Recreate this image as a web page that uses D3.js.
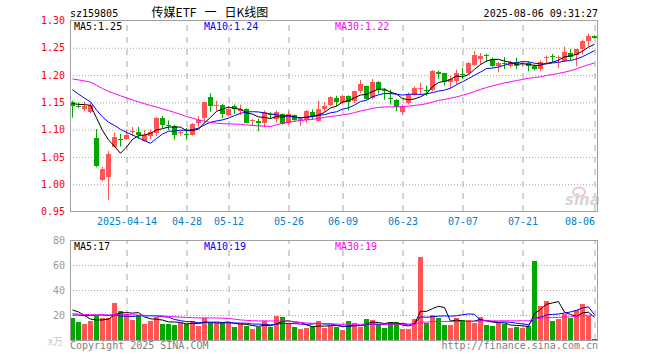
<!DOCTYPE html>
<html>
<head>
<meta charset="utf-8">
<script src="https://cdn.jsdelivr.net/npm/d3@7/dist/d3.min.js"></script>
<style>
  html, body { margin: 0; padding: 0; background: #fff; }
  svg { display: block; }
</style>
</head>
<body>
<svg id="chart" width="660" height="360"></svg>
<script>
// Trading days shown (2025), one candle per day
const dates = [
    "03-31", "04-01", "04-02", "04-03", "04-07", "04-08", "04-09", "04-10", "04-11",
    "04-14", "04-15", "04-16", "04-17", "04-18", "04-21", "04-22", "04-23", "04-24", "04-25",
    "04-28", "04-29", "04-30", "05-06", "05-07", "05-08", "05-09",
    "05-12", "05-13", "05-14", "05-15", "05-16", "05-19", "05-20", "05-21", "05-22", "05-23",
    "05-26", "05-27", "05-28", "05-29", "05-30", "06-03", "06-04", "06-05", "06-06",
    "06-09", "06-10", "06-11", "06-12", "06-13", "06-16", "06-17", "06-18", "06-19", "06-20",
    "06-23", "06-24", "06-25", "06-26", "06-27", "06-30", "07-01", "07-02", "07-03", "07-04",
    "07-07", "07-08", "07-09", "07-10", "07-11", "07-14", "07-15", "07-16", "07-17", "07-18",
    "07-21", "07-22", "07-23", "07-24", "07-25", "07-28", "07-29", "07-30", "07-31", "08-01",
    "08-04", "08-05", "08-06",
];

const open = [
    1.150, 1.144, 1.138, 1.132, 1.085, 1.008, 1.014, 1.069, 1.083, 1.083,
    1.095, 1.096, 1.080, 1.089, 1.094, 1.121, 1.108, 1.107, 1.093, 1.092,
    1.091, 1.113, 1.121, 1.159, 1.143, 1.146, 1.127, 1.144, 1.134, 1.138,
    1.115, 1.115, 1.112, 1.129, 1.120, 1.129, 1.112, 1.127, 1.116, 1.118,
    1.132, 1.115, 1.137, 1.145, 1.158, 1.149, 1.162, 1.152, 1.170, 1.180,
    1.158, 1.188, 1.173, 1.158, 1.155, 1.133, 1.149, 1.164, 1.174, 1.173,
    1.173, 1.205, 1.203, 1.187, 1.189, 1.202, 1.203, 1.219, 1.229, 1.237,
    1.229, 1.216, 1.222, 1.217, 1.224, 1.220, 1.222, 1.216, 1.211, 1.232,
    1.235, 1.232, 1.225, 1.241, 1.236, 1.247, 1.262, 1.271,
];
const high = [
    1.153, 1.150, 1.151, 1.149, 1.101, 1.032, 1.061, 1.095, 1.092, 1.100,
    1.105, 1.105, 1.099, 1.100, 1.123, 1.125, 1.117, 1.109, 1.098, 1.103,
    1.112, 1.125, 1.150, 1.167, 1.153, 1.147, 1.143, 1.146, 1.146, 1.139,
    1.119, 1.120, 1.135, 1.132, 1.135, 1.130, 1.134, 1.128, 1.121, 1.136,
    1.137, 1.153, 1.150, 1.161, 1.162, 1.164, 1.163, 1.171, 1.191, 1.181,
    1.193, 1.189, 1.176, 1.173, 1.156, 1.146, 1.168, 1.179, 1.186, 1.181,
    1.209, 1.208, 1.204, 1.199, 1.210, 1.213, 1.224, 1.244, 1.240, 1.239,
    1.232, 1.224, 1.233, 1.226, 1.232, 1.224, 1.225, 1.219, 1.227, 1.236,
    1.239, 1.236, 1.252, 1.248, 1.248, 1.264, 1.276, 1.273,
];
const low = [
    1.122, 1.139, 1.134, 1.130, 1.031, 1.005, 0.971, 1.067, 1.069, 1.081,
    1.088, 1.083, 1.078, 1.083, 1.088, 1.103, 1.099, 1.082, 1.089, 1.082,
    1.089, 1.105, 1.113, 1.133, 1.135, 1.121, 1.124, 1.129, 1.127, 1.112,
    1.107, 1.097, 1.105, 1.120, 1.113, 1.109, 1.109, 1.115, 1.107, 1.112,
    1.118, 1.114, 1.133, 1.143, 1.143, 1.146, 1.135, 1.149, 1.167, 1.155,
    1.155, 1.166, 1.155, 1.146, 1.134, 1.127, 1.146, 1.161, 1.164, 1.162,
    1.170, 1.193, 1.181, 1.176, 1.183, 1.193, 1.201, 1.217, 1.219, 1.224,
    1.214, 1.205, 1.211, 1.213, 1.211, 1.216, 1.207, 1.209, 1.207, 1.221,
    1.224, 1.213, 1.224, 1.227, 1.216, 1.238, 1.253, 1.267,
];
const close = [
    1.144, 1.141, 1.144, 1.146, 1.033, 1.028, 1.055, 1.086, 1.081, 1.091,
    1.097, 1.091, 1.091, 1.096, 1.122, 1.109, 1.106, 1.091, 1.095, 1.090,
    1.110, 1.118, 1.150, 1.144, 1.146, 1.129, 1.138, 1.137, 1.137, 1.113,
    1.117, 1.113, 1.132, 1.126, 1.132, 1.111, 1.129, 1.118, 1.119, 1.135,
    1.123, 1.138, 1.144, 1.159, 1.151, 1.161, 1.151, 1.170, 1.184, 1.157,
    1.187, 1.173, 1.170, 1.156, 1.141, 1.144, 1.164, 1.176, 1.176, 1.170,
    1.208, 1.202, 1.187, 1.192, 1.203, 1.200, 1.222, 1.236, 1.235, 1.235,
    1.216, 1.222, 1.220, 1.224, 1.216, 1.222, 1.216, 1.211, 1.224, 1.234,
    1.233, 1.234, 1.242, 1.233, 1.247, 1.263, 1.271, 1.268,
];
// Volume in 10k lots (x万)
const volume = [
    17.9, 14.4, 12.8, 15.5, 19.5, 17.9, 18.0, 29.9, 23.2, 20.5,
    16.0, 20.0, 12.8, 15.5, 18.7, 12.8, 12.8, 12.0, 13.9, 12.8,
    15.2, 11.5, 17.3, 13.9, 13.9, 13.3, 13.9, 10.7, 12.8, 11.5,
    8.8, 10.7, 15.2, 10.7, 19.5, 18.7, 12.5, 10.7, 8.8, 9.9,
    11.2, 15.5, 9.9, 11.2, 10.4, 8.0, 15.2, 13.6, 10.4, 16.8,
    16.0, 12.8, 9.9, 14.4, 14.4, 8.8, 8.8, 16.8, 66.4, 13.6,
    20.0, 17.9, 12.0, 12.0, 17.9, 16.0, 16.0, 13.9, 18.4, 12.0,
    11.5, 13.9, 12.5, 9.9, 10.4, 9.9, 11.5, 63.2, 27.2, 31.2,
    15.2, 16.8, 20.8, 17.9, 24.0, 28.8, 19.5, 0.8,
];
// Sessions before the visible window (estimated), needed for the moving averages
const priorClose = [
    1.195, 1.200, 1.210, 1.205, 1.215, 1.210, 1.205, 1.200, 1.214, 1.205,
    1.198, 1.190, 1.195, 1.205, 1.210, 1.200, 1.195, 1.200, 1.205, 1.202,
    1.220, 1.218, 1.213, 1.185, 1.154, 1.150, 1.146, 1.152, 1.148,
];
const priorVolume = [
    22, 19, 25, 21, 18, 24, 20, 23, 19, 22,
    26, 21, 18, 20, 23, 22, 19, 24, 21, 23,
    15, 17, 14, 18, 16, 22, 27, 30, 23,
];

const priceTicks = [1.30, 1.25, 1.20, 1.15, 1.10, 1.05, 1.00, 0.95];
const volumeTicks = [20, 40, 60, 80];
const dateTicks = ["04-14", "04-28", "05-12", "05-26", "06-09", "06-23", "07-07", "07-21", "08-06"];
const dateTickLabels = ["2025-04-14", "04-28", "05-12", "05-26", "06-09", "06-23", "07-07", "07-21", "08-06"];

const code = "sz159805";
const title = "传媒ETF   一   日K线图";
const stamp = "2025-08-06 09:31:27";
const priceLegend = ["MA5:1.25", "MA10:1.24", "MA30:1.22"];
const volumeLegend = ["MA5:17", "MA10:19", "MA30:19"];

const RED = "#ff5555";
const GREEN = "#00a800";
const MA_COLORS = ["#000000", "#0000ff", "#ff00ff"];
const MONO = "'DejaVu Sans Mono', monospace";

function movingAverage(prior, values, n) {
    const all = prior.concat(values);
    return values.map((_, i) => d3.mean(all.slice(prior.length + i - n + 1, prior.length + i + 1)));
}

const svg = d3.select("#chart");
const left = 70, right = 597;
const priceTop = 20, priceBottom = 211;
const volTop = 240, volBottom = 340;

const x = d3.scaleBand().domain(dates).range([70, 598]);
const xMid = (d) => x(d) + 2.5;
const y = d3.scaleLinear().domain([0.95, 1.30]).range([priceBottom + 0.5, priceTop + 0.5]);
const yv = d3.scaleLinear().domain([0, 80]).range([volBottom, volTop]);

const candles = dates.map((d, i) => ({
    date: d, open: open[i], high: high[i], low: low[i], close: close[i], vol: volume[i],
    up: close[i] >= open[i],
}));

// Header
svg.append("text").attr("x", 70).attr("y", 16.5).text(code)
    .style("font-family", MONO).style("font-size", "10px").style("fill", "#000");
svg.append("text").attr("x", 210).attr("y", 17).attr("text-anchor", "middle").text(title)
    .style("white-space", "pre")
    .style("font-family", "'Noto Sans CJK SC', sans-serif").style("font-size", "12px").style("fill", "#000");
svg.append("text").attr("x", 598).attr("y", 16.5).attr("text-anchor", "end").text(stamp)
    .style("font-family", MONO).style("font-size", "10px").style("fill", "#000");

// Grids: dotted horizontal, dashed vertical
function styleGrid(g, dash) {
    g.select(".domain").remove();
    g.selectAll("line").attr("stroke", "#a8a8a8").attr("stroke-dasharray", dash);
}

[[priceTop, priceBottom], [volTop, volBottom]].forEach(([t, b]) => {
    svg.append("g")
        .attr("transform", `translate(0,${b})`)
        .call(d3.axisBottom(x).tickValues(dateTicks).tickSize(-(b - t)).tickFormat("").offset(-2))
        .call((g) => styleGrid(g, "6,6"));
});
svg.append("g")
    .attr("transform", `translate(${left},0)`)
    .call(d3.axisLeft(y).tickValues([1.25, 1.20, 1.15, 1.10, 1.05, 1.00]).tickSize(-(right - left)).tickFormat(""))
    .call((g) => styleGrid(g, "1,2"));
svg.append("g")
    .attr("transform", `translate(${left},0)`)
    .call(d3.axisLeft(yv).tickValues([20, 40, 60]).tickSize(-(right - left)).tickFormat(""))
    .call((g) => styleGrid(g, "1,2"));

// Watermark
const wm = svg.append("g").attr("transform", "translate(565,205)");
wm.append("ellipse").attr("cx", 14).attr("cy", -13).attr("rx", 6).attr("ry", 4.5)
    .attr("fill", "none").attr("stroke", "#f3c4c4").attr("stroke-width", 2);
wm.append("text").attr("x", 0).attr("y", 0).text("sina")
    .style("font-family", "'DejaVu Sans', sans-serif").style("font-weight", "bold")
    .style("font-style", "italic").style("font-size", "15px").style("fill", "#d6d6d6");

// Candles
const cg = svg.append("g");
cg.selectAll(".wick")
    .data(candles)
    .join("line")
    .attr("x1", (d) => xMid(d.date)).attr("x2", (d) => xMid(d.date))
    .attr("y1", (d) => y(d.high)).attr("y2", (d) => y(d.low))
    .attr("stroke", (d) => (d.up ? RED : GREEN))
    .attr("stroke-width", 1);
cg.selectAll(".body")
    .data(candles)
    .join("rect")
    .attr("x", (d) => x(d.date))
    .attr("width", 5)
    .attr("y", (d) => y(Math.max(d.open, d.close)))
    .attr("height", (d) => Math.max(1, Math.abs(y(d.open) - y(d.close))))
    .attr("fill", (d) => (d.up ? RED : GREEN))
    .attr("shape-rendering", "crispEdges");

// Price moving averages
[5, 10, 30].forEach((n, k) => {
    const ma = movingAverage(priorClose, close, n);
    svg.append("path")
        .datum(ma)
        .attr("fill", "none")
        .attr("stroke", MA_COLORS[k])
        .attr("stroke-width", 1)
        .attr("d", d3.line().x((d, i) => xMid(dates[i])).y((d) => y(d)));
});

// Volume bars
svg.append("g").selectAll("rect")
    .data(candles)
    .join("rect")
    .attr("x", (d) => x(d.date))
    .attr("width", 5)
    .attr("y", (d) => yv(d.vol))
    .attr("height", (d) => volBottom - yv(d.vol))
    .attr("fill", (d) => (d.up ? RED : GREEN))
    .attr("shape-rendering", "crispEdges");

[5, 10, 30].forEach((n, k) => {
    const ma = movingAverage(priorVolume, volume, n);
    svg.append("path")
        .datum(ma)
        .attr("fill", "none")
        .attr("stroke", MA_COLORS[k])
        .attr("stroke-width", 1)
        .attr("d", d3.line().x((d, i) => xMid(dates[i])).y((d) => yv(d)));
});

// Panel frames
[[priceTop, priceBottom], [volTop, volBottom]].forEach(([t, b]) => {
    svg.append("rect")
        .attr("x", left + 0.5).attr("y", t + 0.5)
        .attr("width", right - left).attr("height", b - t)
        .attr("fill", "none").attr("stroke", "#a0a0a0");
});

// Price axis labels
const yAxisG = svg.append("g")
    .attr("transform", `translate(${left},0)`)
    .call(d3.axisLeft(y).tickValues(priceTicks).tickSize(0).tickPadding(5).tickFormat(d3.format(".2f")));
yAxisG.select(".domain").remove();
yAxisG.selectAll("text")
    .style("font-family", MONO).style("font-size", "10px").style("fill", "#ff0000");

// Date labels
const xAxisG = svg.append("g")
    .attr("transform", `translate(0,${priceBottom})`)
    .call(d3.axisBottom(x).tickValues(dateTicks).tickSize(0).tickPadding(6.5).offset(-3)
        .tickFormat((d, i) => dateTickLabels[i]));
xAxisG.select(".domain").remove();
xAxisG.selectAll("text")
    .style("font-family", MONO).style("font-size", "10px").style("fill", "#0080d0");
xAxisG.selectAll("text").filter((d) => d === "08-06")
    .attr("text-anchor", "end").attr("x", 0);

// Volume axis labels
const vAxisG = svg.append("g")
    .attr("transform", `translate(${left},0)`)
    .call(d3.axisLeft(yv).tickValues(volumeTicks).tickSize(0).tickPadding(5));
vAxisG.select(".domain").remove();
vAxisG.selectAll("text")
    .style("font-family", MONO).style("font-size", "10px").style("fill", "#999");
svg.append("text").attr("x", 63).attr("y", 345).attr("text-anchor", "end").text("x万")
    .style("font-family", "'Noto Sans CJK SC', sans-serif").style("font-size", "10px").style("fill", "#c8c8c8");

// Legends
const legendX = [74, 204, 335];
priceLegend.forEach((t, k) => {
    svg.append("text").attr("x", legendX[k]).attr("y", 30).text(t)
        .style("font-family", MONO).style("font-size", "10px").style("fill", MA_COLORS[k]);
});
volumeLegend.forEach((t, k) => {
    svg.append("text").attr("x", legendX[k]).attr("y", 250).text(t)
        .style("font-family", MONO).style("font-size", "10px").style("fill", MA_COLORS[k]);
});

// Footer
svg.append("text").attr("x", 70).attr("y", 349).text("Copyright 2025 SINA.COM")
    .style("font-family", MONO).style("font-size", "10px").style("fill", "#808080");
svg.append("text").attr("x", 598).attr("y", 349).attr("text-anchor", "end").text("http://finance.sina.com.cn")
    .style("font-family", MONO).style("font-size", "10px").style("fill", "#808080");
</script>
</body>
</html>
